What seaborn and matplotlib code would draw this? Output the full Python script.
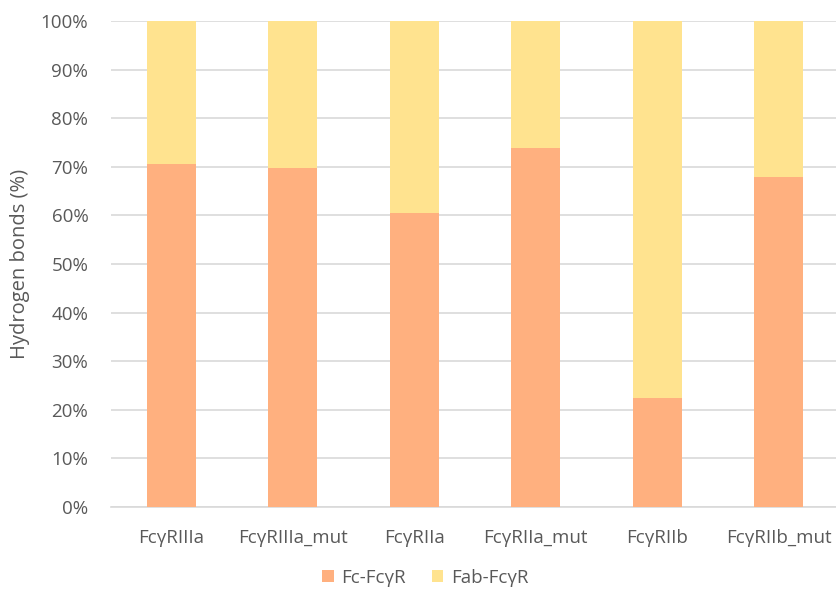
import matplotlib
matplotlib.use("Agg")
import matplotlib.pyplot as plt
import seaborn as sns
import pandas as pd
from matplotlib.ticker import PercentFormatter, MultipleLocator
from matplotlib.patches import Patch

receptors = ["FcγRIIIa", "FcγRIIIa_mut", "FcγRIIa", "FcγRIIa_mut", "FcγRIIb", "FcγRIIb_mut"]
fc_fcgr = [70.5, 69.8, 60.4, 73.9, 22.5, 67.9]
fab_fcgr = [100 - v for v in fc_fcgr]
series_names = ["Fc-FcγR", "Fab-FcγR"]

fc_color = "#FFB07F"
fab_color = "#FFE38F"
text_color = "#595959"
grid_color = "#D9D9D9"

sns.set_theme(style="white")
plt.rcParams["font.family"] = ["Open Sans", "DejaVu Sans"]

df = pd.DataFrame({"receptor": receptors, "fc": fc_fcgr, "fab": fab_fcgr})
df["total"] = df["fc"] + df["fab"]

fig = plt.figure(figsize=(8.37, 5.93), dpi=100)
ax = fig.add_axes([0.1321, 0.145, 0.8679, 0.8196])

# Stacked bars: full-height Fab layer underneath, Fc layer on top from the baseline
sns.barplot(data=df, x="receptor", y="total", color=fab_color, width=0.4,
            saturation=1, linewidth=0, ax=ax, zorder=3)
sns.barplot(data=df, x="receptor", y="fc", color=fc_color, width=0.4,
            saturation=1, linewidth=0, ax=ax, zorder=3)

ax.set_ylim(0, 100)
ax.set_xlim(-0.5, 5.48)
ax.yaxis.set_major_locator(MultipleLocator(10))
ax.yaxis.set_major_formatter(PercentFormatter(decimals=0))
ax.grid(axis="y", color=grid_color, linewidth=1.2, zorder=0)
ax.set_axisbelow(True)

for side in ["top", "right", "left"]:
    ax.spines[side].set_visible(False)
ax.spines["bottom"].set_color(grid_color)
ax.spines["bottom"].set_linewidth(1.2)

ax.tick_params(axis="both", length=0, labelsize=13.5, labelcolor=text_color)
ax.tick_params(axis="x", pad=16)
ax.tick_params(axis="y", pad=16)
ax.set_xlabel("")
ax.set_ylabel("Hydrogen bonds (%)", fontsize=14.5, color=text_color, labelpad=8)

handles = [Patch(facecolor=fc_color, edgecolor="none"),
           Patch(facecolor=fab_color, edgecolor="none")]
fig.legend(handles, series_names, loc="center", bbox_to_anchor=(0.508, 0.026),
           ncol=2, frameon=False, fontsize=13.5, labelcolor=text_color,
           handlelength=0.6, handleheight=0.6, handletextpad=0.4, columnspacing=1.4)

fig.savefig("out.png", dpi=100)
